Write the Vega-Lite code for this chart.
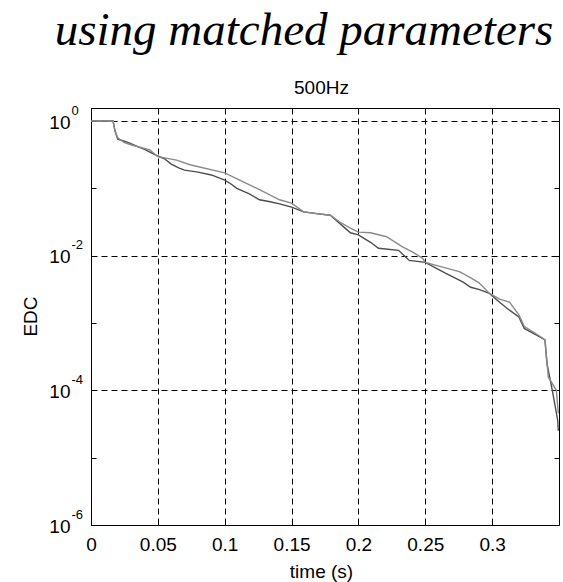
{
  "$schema": "https://vega.github.io/schema/vega-lite/v6.json",
  "width": 468,
  "height": 417,
  "autosize": {"type": "none"},
  "padding": {"left": 91, "top": 108, "right": 4, "bottom": 57},
  "background": "white",
  "title": {
    "text": "using matched parameters",
    "font": "Liberation Serif",
    "fontStyle": "italic",
    "fontWeight": "normal",
    "fontSize": 47,
    "color": "black",
    "anchor": "middle",
    "dx": -21,
    "offset": 23
  },
  "config": {
    "view": {"stroke": "black", "strokeWidth": 1},
    "axis": {
      "labelFont": "Liberation Sans",
      "labelFontSize": 19,
      "labelColor": "black",
      "titleFont": "Liberation Sans",
      "titleFontSize": 19,
      "titleFontWeight": "normal",
      "titleColor": "black",
      "domain": false,
      "tickColor": "black",
      "tickWidth": 1,
      "tickSize": -5,
      "gridColor": "black",
      "gridDash": [6, 4],
      "gridWidth": 1
    }
  },
  "data": {
    "values": [
      {"s": "A", "t": 0, "v": 1},
      {"s": "A", "t": 0.0165, "v": 1},
      {"s": "A", "t": 0.018, "v": 0.708},
      {"s": "A", "t": 0.02, "v": 0.537},
      {"s": "A", "t": 0.025, "v": 0.501},
      {"s": "A", "t": 0.029, "v": 0.468},
      {"s": "A", "t": 0.035, "v": 0.417},
      {"s": "A", "t": 0.04, "v": 0.38},
      {"s": "A", "t": 0.05, "v": 0.302},
      {"s": "A", "t": 0.055, "v": 0.275},
      {"s": "A", "t": 0.06, "v": 0.229},
      {"s": "A", "t": 0.066, "v": 0.2},
      {"s": "A", "t": 0.07, "v": 0.186},
      {"s": "A", "t": 0.08, "v": 0.174},
      {"s": "A", "t": 0.09, "v": 0.158},
      {"s": "A", "t": 0.1, "v": 0.132},
      {"s": "A", "t": 0.105, "v": 0.115},
      {"s": "A", "t": 0.109, "v": 0.1},
      {"s": "A", "t": 0.118, "v": 0.0832},
      {"s": "A", "t": 0.126, "v": 0.0676},
      {"s": "A", "t": 0.134, "v": 0.0631},
      {"s": "A", "t": 0.141, "v": 0.0589},
      {"s": "A", "t": 0.15, "v": 0.0525},
      {"s": "A", "t": 0.159, "v": 0.0447},
      {"s": "A", "t": 0.17, "v": 0.0417},
      {"s": "A", "t": 0.179, "v": 0.0398},
      {"s": "A", "t": 0.186, "v": 0.0302},
      {"s": "A", "t": 0.194, "v": 0.0219},
      {"s": "A", "t": 0.2, "v": 0.0204},
      {"s": "A", "t": 0.209, "v": 0.0158},
      {"s": "A", "t": 0.215, "v": 0.0129},
      {"s": "A", "t": 0.23, "v": 0.012},
      {"s": "A", "t": 0.238, "v": 0.00851},
      {"s": "A", "t": 0.25, "v": 0.00794},
      {"s": "A", "t": 0.265, "v": 0.0055},
      {"s": "A", "t": 0.278, "v": 0.00407},
      {"s": "A", "t": 0.284, "v": 0.00339},
      {"s": "A", "t": 0.29, "v": 0.00316},
      {"s": "A", "t": 0.298, "v": 0.00275},
      {"s": "A", "t": 0.306, "v": 0.002},
      {"s": "A", "t": 0.313, "v": 0.00155},
      {"s": "A", "t": 0.32, "v": 0.00123},
      {"s": "A", "t": 0.324, "v": 0.000832},
      {"s": "A", "t": 0.336, "v": 0.000617},
      {"s": "A", "t": 0.3395, "v": 0.000562},
      {"s": "A", "t": 0.341, "v": 0.000251},
      {"s": "A", "t": 0.345, "v": 0.0001},
      {"s": "A", "t": 0.349, "v": 0.0000363},
      {"s": "A", "t": 0.3495, "v": 0.0000251},
      {"s": "B", "t": 0, "v": 1},
      {"s": "B", "t": 0.0165, "v": 1},
      {"s": "B", "t": 0.018, "v": 0.708},
      {"s": "B", "t": 0.02, "v": 0.562},
      {"s": "B", "t": 0.025, "v": 0.479},
      {"s": "B", "t": 0.031, "v": 0.437},
      {"s": "B", "t": 0.044, "v": 0.372},
      {"s": "B", "t": 0.05, "v": 0.295},
      {"s": "B", "t": 0.064, "v": 0.263},
      {"s": "B", "t": 0.074, "v": 0.224},
      {"s": "B", "t": 0.1, "v": 0.17},
      {"s": "B", "t": 0.126, "v": 0.0955},
      {"s": "B", "t": 0.141, "v": 0.0676},
      {"s": "B", "t": 0.15, "v": 0.0603},
      {"s": "B", "t": 0.159, "v": 0.0447},
      {"s": "B", "t": 0.179, "v": 0.0398},
      {"s": "B", "t": 0.186, "v": 0.0316},
      {"s": "B", "t": 0.194, "v": 0.0257},
      {"s": "B", "t": 0.2, "v": 0.0224},
      {"s": "B", "t": 0.209, "v": 0.0219},
      {"s": "B", "t": 0.221, "v": 0.0191},
      {"s": "B", "t": 0.233, "v": 0.0135},
      {"s": "B", "t": 0.241, "v": 0.0112},
      {"s": "B", "t": 0.248, "v": 0.00912},
      {"s": "B", "t": 0.25, "v": 0.00794},
      {"s": "B", "t": 0.263, "v": 0.00676},
      {"s": "B", "t": 0.276, "v": 0.00575},
      {"s": "B", "t": 0.284, "v": 0.00468},
      {"s": "B", "t": 0.29, "v": 0.00398},
      {"s": "B", "t": 0.298, "v": 0.00275},
      {"s": "B", "t": 0.306, "v": 0.00224},
      {"s": "B", "t": 0.313, "v": 0.00204},
      {"s": "B", "t": 0.32, "v": 0.00132},
      {"s": "B", "t": 0.324, "v": 0.000891},
      {"s": "B", "t": 0.336, "v": 0.000631},
      {"s": "B", "t": 0.3395, "v": 0.000562},
      {"s": "B", "t": 0.342, "v": 0.000158},
      {"s": "B", "t": 0.348, "v": 0.0001},
      {"s": "B", "t": 0.3495, "v": 0.0000457}
    ]
  },
  "layer": [
    {
      "transform": [{"filter": "datum.s === 'A'"}],
      "mark": {"type": "line", "color": "#4d4d4d", "strokeWidth": 1.4, "clip": true},
      "encoding": {
        "x": {
          "field": "t", "type": "quantitative",
          "scale": {"domain": [0, 0.35], "nice": false, "zero": false},
          "axis": {
            "orient": "bottom",
            "values": [0, 0.05, 0.1, 0.15, 0.2, 0.25, 0.3],
            "format": "~g",
            "grid": true,
            "labelFlush": false,
            "labelPadding": 15,
            "title": "time (s)",
            "titleX": 230,
            "titleY": 52,
            "titleAlign": "center",
            "titleBaseline": "alphabetic"
          }
        },
        "y": {
          "field": "v", "type": "quantitative",
          "scale": {"type": "log", "domain": [0.000001, 1.56], "nice": false},
          "axis": {
            "orient": "left",
            "values": [0.000001, 0.00001, 0.0001, 0.001, 0.01, 0.1, 1],
            "labelExpr": "(round(log(datum.value)/LN10) % 2 == 0) ? '10' : ''",
            "grid": true,
            "gridOpacity": {"condition": {"test": "round(log(datum.value)/LN10) % 2 == 0", "value": 1}, "value": 0},
            "labelPadding": 26,
            "labelOffset": 1,
            "title": "EDC",
            "titleX": -61,
            "titleY": 208,
            "titleAlign": "center",
            "titleBaseline": "middle",
            "titleAngle": -90
          }
        }
      }
    },
    {
      "transform": [{"filter": "datum.s === 'B'"}],
      "mark": {"type": "line", "color": "#8a8a8a", "strokeWidth": 1.4, "clip": true},
      "encoding": {
        "x": {
          "field": "t", "type": "quantitative",
          "axis": {
            "orient": "top",
            "values": [0, 0.05, 0.1, 0.15, 0.2, 0.25, 0.3],
            "labels": false,
            "grid": false,
            "title": "500Hz",
            "titleX": 230,
            "titleY": -15,
            "titleAlign": "center",
            "titleBaseline": "alphabetic"
          }
        },
        "y": {
          "field": "v", "type": "quantitative",
          "axis": {
            "orient": "right",
            "values": [0.000001, 0.00001, 0.0001, 0.001, 0.01, 0.1, 1],
            "labels": false,
            "grid": false,
            "title": null
          }
        }
      }
    },
    {
      "transform": [{"filter": "datum.s === 'B'"}],
      "mark": {"type": "line", "strokeOpacity": 0, "clip": true},
      "encoding": {
        "x": {"field": "t", "type": "quantitative", "axis": null},
        "y": {
          "field": "v", "type": "quantitative",
          "axis": {
            "orient": "left",
            "values": [0.000001, 0.0001, 0.01, 1],
            "labelExpr": "datum.value > 0.5 ? '0' : '-' + abs(round(log(datum.value)/LN10))",
            "labelFontSize": 13,
            "labelAlign": "left",
            "labelPadding": 20,
            "labelOffset": -11,
            "ticks": false,
            "grid": false,
            "title": null
          }
        }
      }
    }
  ],
  "resolve": {"axis": {"x": "independent", "y": "independent"}}
}
